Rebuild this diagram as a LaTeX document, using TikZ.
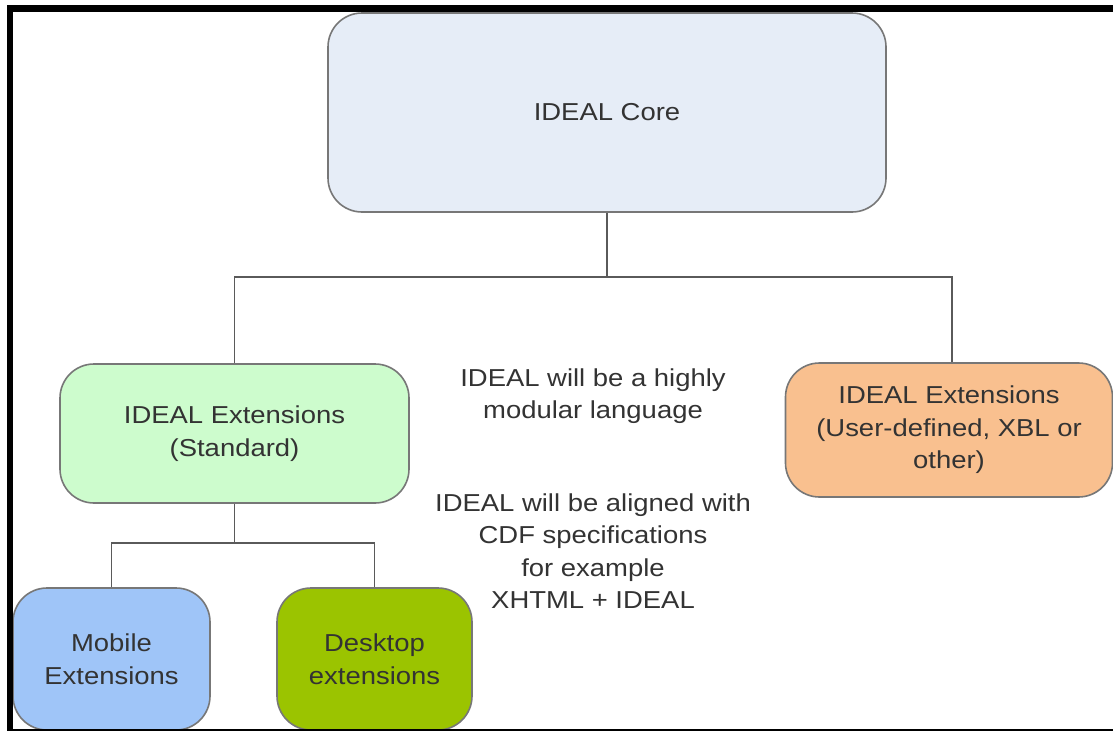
\documentclass[tikz,border=0pt]{standalone}
\usepackage{fontspec}
\setmainfont{Liberation Sans}[FakeStretch=1.12]
\definecolor{corefill}{HTML}{E6EDF7}
\definecolor{stdfill}{HTML}{CDFCCD}
\definecolor{usrfill}{HTML}{F9C08F}
\definecolor{mobfill}{HTML}{9FC5F8}
\definecolor{deskfill}{HTML}{9BC400}
\definecolor{boxline}{HTML}{777777}
\definecolor{txt}{HTML}{333333}
\definecolor{conn}{HTML}{5A5A5A}
\tikzset{
  box/.style={draw=boxline, line width=1.6pt, rounded corners=34pt, align=center,
    inner sep=0pt, text=txt, font=\fontsize{24.5}{32.5}\selectfont},
  conline/.style={draw=conn, line width=1.8pt},
  note/.style={align=center, text=txt, inner sep=0pt, font=\fontsize{24.5}{32.5}\selectfont}
}
\begin{document}
\begin{tikzpicture}[x=1pt,y=-1pt]
\useasboundingbox (0,0) rectangle (1113,731);
\fill[white] (0,0) rectangle (1113,731);
\begin{scope}
\clip (0,0) rectangle (1113,731);
\coordinate (j1) at (607,277);
\coordinate (j2) at (234.5,543);
\node[box, fill=corefill, minimum width=558pt, minimum height=199pt] (core) at (607,112.5) {IDEAL Core};
\node[box, fill=stdfill, minimum width=349pt, minimum height=139pt] (std) at (234.5,433.5) {IDEAL Extensions\\(Standard)};
\node[box, fill=usrfill, minimum width=327pt, minimum height=134pt] (usr) at (949,430) {IDEAL Extensions\\(User-defined, XBL or\\other)};
\node[box, fill=mobfill, minimum width=197pt, minimum height=142pt] (mob) at (111.5,659) {Mobile\\Extensions};
\node[box, fill=deskfill, minimum width=195pt, minimum height=142pt] (desk) at (374.5,659) {Desktop\\extensions};
\draw[conline] (core.south) -- (j1);
\draw[conline] (std.north) |- (j1) -| ([xshift=3pt]usr.north);
\draw[conline] (std.south) -- (j2);
\draw[conline] (mob.north) |- (j2) -| (desk.north);
\node[note] (n1) at (593,396) {IDEAL will be a highly\\modular language};
\node[note] (n2) at (593,551) {IDEAL will be aligned with\\CDF specifications\\for example\\XHTML + IDEAL};
% frame
\draw[black, line width=6pt] (10,5) -- (10,731);
\draw[black, line width=7pt] (7,8.5) -- (1113,8.5);
\draw[black, line width=2.2pt] (7,730) -- (1113,730);
\end{scope}
\end{tikzpicture}
\end{document}
